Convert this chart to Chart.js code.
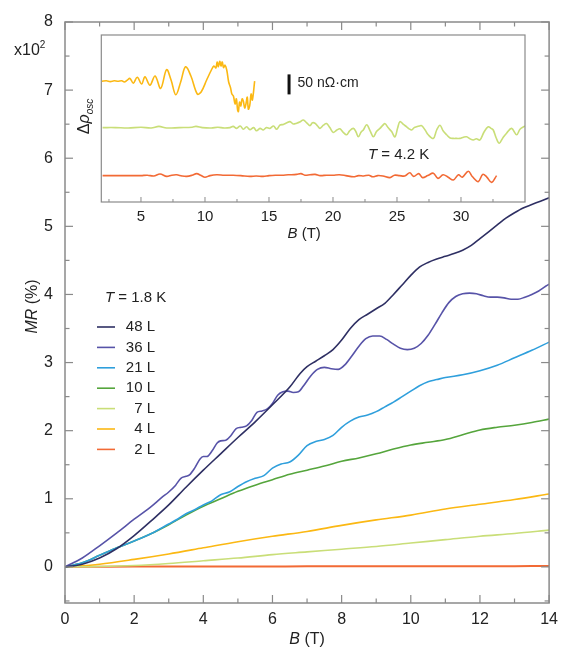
<!DOCTYPE html>
<html><head><meta charset="utf-8">
<script src="https://cdn.jsdelivr.net/npm/chart.js@4.4.1/dist/chart.umd.min.js"></script>
<style>
html,body{margin:0;padding:0;background:#fff;}
#wrap{position:relative;width:565px;height:649px;overflow:hidden;}
#main{position:absolute;left:0;top:0;}
#inset{position:absolute;left:60px;top:30px;}
</style></head><body>
<div id="wrap"><canvas id="main" width="565" height="649"></canvas><canvas id="inset" width="480" height="220"></canvas></div>
<script>
// ---------- main panel data: B (T) and MR (%) ----------
const labels = ['48 L','36 L','21 L','10 L','7 L','4 L','2 L'];
const colors = ['#2e2f63','#5753a8','#2f9fdc','#55a53c','#c9de78','#fbb813','#f26a35'];

const b48 = [0,0.5,1,1.5,2,2.5,3,3.5,4,4.5,5,5.5,6,6.5,6.8,7,7.25,7.5,7.75,8,8.25,8.5,8.75,9,9.25,9.5,9.75,10,10.25,10.5,10.75,11,11.25,11.5,11.75,12,12.25,12.5,12.75,13,13.25,13.5,13.75,14];
const mr48 = [0,0.04,0.13,0.27,0.46,0.68,0.91,1.17,1.42,1.66,1.90,2.13,2.38,2.64,2.84,2.94,3.02,3.10,3.19,3.33,3.50,3.63,3.71,3.79,3.87,4.00,4.14,4.28,4.40,4.47,4.52,4.56,4.60,4.65,4.72,4.82,4.92,5.02,5.12,5.20,5.27,5.32,5.37,5.42];

const b36 = [0,0.5,1,1.5,2,2.5,2.8,3.0,3.2,3.35,3.5,3.6,3.75,3.9,4.0,4.1,4.25,4.4,4.5,4.65,4.8,4.95,5.1,5.25,5.4,5.55,5.7,5.85,6.0,6.15,6.3,6.45,6.6,6.75,6.9,7.1,7.3,7.5,7.7,7.9,8.1,8.3,8.5,8.7,8.9,9.1,9.3,9.5,9.7,9.9,10.1,10.3,10.5,10.7,10.9,11.1,11.3,11.5,11.7,11.9,12.1,12.3,12.5,12.7,12.9,13.1,13.3,13.5,13.7,13.9,14];
const mr36 = [0,0.13,0.31,0.50,0.70,0.89,1.02,1.10,1.20,1.30,1.33,1.35,1.45,1.58,1.62,1.62,1.70,1.82,1.85,1.86,1.93,2.03,2.05,2.07,2.15,2.27,2.29,2.32,2.40,2.52,2.57,2.58,2.56,2.57,2.66,2.80,2.90,2.93,2.91,2.90,2.97,3.10,3.24,3.35,3.39,3.39,3.34,3.27,3.21,3.19,3.21,3.28,3.40,3.56,3.73,3.88,3.97,4.01,4.02,4.01,3.98,3.96,3.96,3.95,3.93,3.93,3.96,4.00,4.05,4.12,4.15];

const b21 = [0,0.5,1,1.5,2,2.5,3,3.25,3.5,3.75,4,4.25,4.5,4.75,5,5.25,5.5,5.75,6,6.25,6.5,6.75,7,7.25,7.5,7.75,8,8.25,8.5,8.75,9,9.25,9.5,9.75,10,10.25,10.5,10.75,11,11.5,12,12.5,13,13.5,14];
const mr21 = [0,0.06,0.17,0.28,0.38,0.49,0.63,0.70,0.78,0.84,0.91,0.97,1.06,1.10,1.18,1.25,1.30,1.34,1.45,1.51,1.54,1.64,1.78,1.84,1.87,1.93,2.05,2.14,2.20,2.23,2.28,2.35,2.42,2.50,2.58,2.66,2.72,2.75,2.78,2.82,2.88,2.96,3.07,3.18,3.30];

const b10 = [0,0.5,1,1.5,2,2.5,3,3.5,4,4.5,5,5.5,6,6.5,7,7.5,8,8.5,9,9.5,10,10.5,11,11.5,12,12.5,13,13.5,14];
const mr10 = [0,0.06,0.17,0.28,0.38,0.49,0.62,0.76,0.89,1.00,1.11,1.20,1.28,1.36,1.42,1.48,1.55,1.60,1.66,1.73,1.79,1.83,1.87,1.94,2.01,2.05,2.08,2.12,2.17];

const bInt = [0,1,2,3,4,5,6,7,8,9,10,11,12,13,14];
const mr7 = [0,0.005,0.02,0.05,0.09,0.13,0.18,0.22,0.26,0.30,0.35,0.40,0.45,0.49,0.54];
const mr4 = [0,0.04,0.11,0.19,0.28,0.37,0.45,0.52,0.61,0.69,0.76,0.85,0.92,0.99,1.07];
const mr2 = [0,0.003,0.005,0.005,0.006,0.006,0.007,0.008,0.008,0.009,0.01,0.01,0.01,0.011,0.012];

const xTickLabels = [0,2,4,6,8,10,12,14];
const xTickMarks = [0,1,2,3,4,5,6,7,8,9,10,11,12,13,14];
const yTickLabels = [0,1,2,3,4,5,6,7,8];
const yTickMarks = [-0.5,0,0.5,1,1.5,2,2.5,3,3.5,4,4.5,5,5.5,6,6.5,7,7.5,8];

// ---------- inset data: B (T) and Δρosc (nΩ·cm, offset) ----------
const bIn4 = [1.95,2.3,2.6,2.9,3.2,3.5,3.7,3.9,4.14,4.4,4.71,5.05,5.31,5.7,6.1,6.54,7.0,7.35,7.72,8.1,8.48,8.9,9.4,9.7,10.13,10.5,10.7,10.85,10.95,11.05,11.15,11.25,11.35,11.45,11.56,11.7,11.85,12.0,12.1,12.22,12.35,12.45,12.55,12.61,12.7,12.8,12.9,13.0,13.1,13.2,13.3,13.39,13.5,13.6,13.7,13.88];
const dr4 = [302,303,301,303,302,303,300,304,309,297,312,295,313,292,315,284,331,305,268,300,338,315,270,275,305,330,340,335,350,338,352,340,350,336,342,330,300,285,270,265,245,258,230,226,250,240,258,252,235,245,262,232,242,270,255,302];

const bIn7 = [2.0,3,4,5,5.8,6.4,7,8,9,9.3,9.8,10.5,11,11.5,11.95,12.2,12.47,12.75,13.0,13.25,13.51,13.8,14.03,14.3,14.55,14.8,15.07,15.35,15.6,15.85,16.12,16.4,16.64,16.9,17.16,17.4,17.68,17.95,18.2,18.4,18.59,18.8,18.98,19.25,19.5,19.75,20.02,20.3,20.54,20.8,21.06,21.3,21.59,21.8,21.98,22.2,22.37,22.63,22.9,23.15,23.4,23.67,23.9,24.06,24.3,24.58,24.84,25.05,25.23,25.5,25.75,25.95,26.14,26.35,26.53,26.75,26.92,27.2,27.44,27.84,28.1,28.36,28.6,28.88,29.15,29.4,29.65,29.92,30.2,30.44,30.7,30.96,31.2,31.48,31.8,32.13,32.35,32.52,32.75,32.99,33.3,33.56,33.95,34.35,34.61,35.0];
const dr7 = [186,186,185,187,185,189,185,186,187,189,186,185,187,185,186,189,184,190,182,188,181,186,178,184,180,186,184,190,182,192,194,198,201,195,197,200,205,198,191,198,197,190,184,192,196,186,174,180,183,174,168,178,184,175,163,175,180,193,178,163,176,184,192,196,186,176,163,185,201,194,188,183,180,186,188,190,191,180,168,159,180,192,178,168,160,159,159,159,162,163,158,155,158,155,175,188,184,180,160,147,162,172,184,168,182,190];

const bIn2 = [2.0,3,4,5,5.5,6,6.49,7.01,7.4,7.79,8.2,8.57,9,9.35,9.7,10.0,10.4,10.92,11.5,12.2,12.8,13.5,14.0,14.55,15,15.5,16,16.5,17.16,17.5,17.8,18.2,18.6,19,19.5,20,20.5,21,21.6,22,22.4,22.8,23.1,23.5,23.9,24.45,24.8,25.2,25.6,26.0,26.3,26.7,27.0,27.4,27.84,28.2,28.6,29.0,29.4,29.8,30.1,30.57,30.9,31.35,31.7,32.0,32.39,32.78];
const dr2 = [66,66,66,66,67,65,70,64,67,68,65,64,67,71,66,62,66,68,67,67,66,64,65,64,66,67,67,68,69,71,67,68,69,66,67,67,68,66,63,66,65,67,63,66,65,61,67,66,65,73,64,71,61,66,72,59,68,62,55,68,62,77,63,51,69,63,49,66];

const insetXTickLabels = [5,10,15,20,25,30];
const insetXTickMarks = [2.5,5,7.5,10,12.5,15,17.5,20,22.5,25,27.5,30,32.5];
const scaleBarValue = 50; // nΩ·cm

const FONT = '"Liberation Sans", Arial, Helvetica, sans-serif';
const TXT = '#222';
const FRAME = '#8a8a8a';

function pts(xs, ys){ return xs.map((x,i)=>({x:x, y:ys[i]})); }

function rich(ctx, parts, x, y, align){
  let w = 0;
  parts.forEach(p=>{ ctx.font = p.font; p.w = ctx.measureText(p.t).width; w += p.w; });
  let cx = align==='center' ? x - w/2 : (align==='right' ? x - w : x);
  ctx.textAlign = 'left'; ctx.textBaseline = 'middle';
  parts.forEach(p=>{ ctx.font = p.font; ctx.fillText(p.t, cx, y + (p.dy||0)); cx += p.w; });
}
function seg(ctx,x1,y1,x2,y2){ ctx.beginPath(); ctx.moveTo(x1,y1); ctx.lineTo(x2,y2); ctx.stroke(); }

const mainDecor = {
  id:'mainDecor',
  afterDraw(chart){
    const {ctx, chartArea:a, scales:{x,y}} = chart;
    ctx.save();
    ctx.strokeStyle = FRAME; ctx.lineWidth = 1.5;
    ctx.strokeRect(a.left, a.top, a.right-a.left, a.bottom-a.top);
    ctx.lineWidth = 1.2;
    xTickMarks.forEach(v=>{
      const px = x.getPixelForValue(v); const L = xTickLabels.includes(v) ? 8 : 4.5;
      seg(ctx,px,a.bottom,px,a.bottom-L); seg(ctx,px,a.top,px,a.top+L);
    });
    yTickMarks.forEach(v=>{
      const py = y.getPixelForValue(v); const L = yTickLabels.includes(v) ? 8 : 4.5;
      seg(ctx,a.left,py,a.left+L,py); seg(ctx,a.right,py,a.right-L,py);
    });
    ctx.fillStyle = TXT;
    // x title
    rich(ctx,[{t:'B',font:'italic 16px '+FONT},{t:' (T)',font:'16px '+FONT}], (a.left+a.right)/2, 640, 'center');
    // y title
    ctx.save(); ctx.translate(33, (a.top+a.bottom)/2 - 6); ctx.rotate(-Math.PI/2);
    rich(ctx,[{t:'MR',font:'italic 16px '+FONT},{t:' (%)',font:'16px '+FONT}], 0, 0, 'center');
    ctx.restore();
    // x10^2
    rich(ctx,[{t:'x10',font:'16px '+FONT},{t:'2',font:'10px '+FONT,dy:-6}], 14, 51, 'left');
    // legend
    rich(ctx,[{t:'T',font:'italic 15px '+FONT},{t:' = 1.8 K',font:'15px '+FONT}], 105, 298, 'left');
    chart.data.datasets.forEach((ds,i)=>{
      const yy = 327 + i*20.4;
      ctx.strokeStyle = ds.borderColor; ctx.lineWidth = 1.6;
      seg(ctx,97,yy,115,yy);
      ctx.fillStyle = TXT; ctx.font = '15px '+FONT; ctx.textAlign='right'; ctx.textBaseline='middle';
      ctx.fillText(ds.label, 155, yy);
    });
    ctx.restore();
  }
};

new Chart(document.getElementById('main'), {
  type:'line',
  data:{datasets:[
    {label:labels[0], data:pts(b48,mr48), borderColor:colors[0]},
    {label:labels[1], data:pts(b36,mr36), borderColor:colors[1]},
    {label:labels[2], data:pts(b21,mr21), borderColor:colors[2]},
    {label:labels[3], data:pts(b10,mr10), borderColor:colors[3]},
    {label:labels[4], data:pts(bInt,mr7), borderColor:colors[4]},
    {label:labels[5], data:pts(bInt,mr4), borderColor:colors[5]},
    {label:labels[6], data:pts(bInt,mr2), borderColor:colors[6], borderWidth:2}
  ]},
  options:{
    responsive:false, animation:false, devicePixelRatio:1,
    layout:{padding:{top:22,right:14,left:0,bottom:0}},
    elements:{line:{borderWidth:1.6, cubicInterpolationMode:'monotone', fill:false}, point:{radius:0}},
    plugins:{legend:{display:false}, tooltip:{enabled:false}},
    scales:{
      x:{type:'linear', min:0, max:14,
         afterBuildTicks:s=>{ s.ticks = xTickLabels.map(v=>({value:v})); },
         afterFit:s=>{ s.height = 46; },
         grid:{display:false, drawTicks:false}, border:{display:false},
         ticks:{padding:7, maxRotation:0, color:TXT, font:{family:FONT,size:16}}},
      y:{type:'linear', min:-0.53, max:8,
         afterBuildTicks:s=>{ s.ticks = yTickLabels.map(v=>({value:v})); },
         afterFit:s=>{ s.width = 65; },
         grid:{display:false, drawTicks:false}, border:{display:false},
         ticks:{padding:12, color:TXT, font:{family:FONT,size:16}}}
    }
  },
  plugins:[mainDecor]
});

const insetDecor = {
  id:'insetDecor',
  beforeDraw(chart){
    const {ctx, chartArea:a} = chart;
    ctx.save(); ctx.fillStyle='#fff'; ctx.fillRect(a.left, a.top, a.right-a.left, a.bottom-a.top); ctx.restore();
  },
  afterDraw(chart){
    const {ctx, chartArea:a, scales:{x,y}} = chart;
    ctx.save();
    ctx.strokeStyle = FRAME; ctx.lineWidth = 1.2;
    ctx.strokeRect(a.left, a.top, a.right-a.left, a.bottom-a.top);
    ctx.lineWidth = 1;
    insetXTickMarks.forEach(v=>{
      const px = x.getPixelForValue(v); const L = insetXTickLabels.includes(v) ? 5 : 3;
      seg(ctx,px,a.bottom,px,a.bottom-L);
    });
    // scale bar
    const bx = x.getPixelForValue(16.45);
    const y0 = y.getPixelForValue(269), y1 = y.getPixelForValue(269+scaleBarValue);
    ctx.fillStyle = '#111'; ctx.fillRect(bx, y1, 3, y0-y1);
    ctx.fillStyle = TXT;
    rich(ctx,[{t:scaleBarValue+' nΩ·cm',font:'14px '+FONT}], bx+10, (y0+y1)/2 - 1, 'left');
    // T = 4.2 K
    rich(ctx,[{t:'T',font:'italic 15px '+FONT},{t:' = 4.2 K',font:'15px '+FONT}], 308, 125, 'left');
    // x title
    rich(ctx,[{t:'B',font:'italic 15px '+FONT},{t:' (T)',font:'15px '+FONT}], (a.left+a.right)/2 - 9, 204, 'center');
    // y title
    ctx.save(); ctx.translate(25, (a.top+a.bottom)/2 - 2); ctx.rotate(-Math.PI/2);
    rich(ctx,[{t:'Δ',font:'16px '+FONT},{t:'ρ',font:'italic 16px '+FONT},{t:'osc',font:'italic 10px '+FONT,dy:5}], 0, 0, 'center');
    ctx.restore();
    ctx.restore();
  }
};

new Chart(document.getElementById('inset'), {
  type:'line',
  data:{datasets:[
    {label:labels[5], data:pts(bIn4,dr4), borderColor:colors[5]},
    {label:labels[4], data:pts(bIn7,dr7), borderColor:colors[4]},
    {label:labels[6], data:pts(bIn2,dr2), borderColor:colors[6]}
  ]},
  options:{
    responsive:false, animation:false, devicePixelRatio:1,
    layout:{padding:{top:5,right:15,left:0,bottom:0}},
    elements:{line:{borderWidth:1.6, tension:0.35, fill:false}, point:{radius:0}},
    plugins:{legend:{display:false}, tooltip:{enabled:false}},
    scales:{
      x:{type:'linear', min:1.9, max:35,
         afterBuildTicks:s=>{ s.ticks = insetXTickLabels.map(v=>({value:v})); },
         afterFit:s=>{ s.height = 48; },
         grid:{display:false, drawTicks:false}, border:{display:false},
         ticks:{padding:6, maxRotation:0, color:TXT, font:{family:FONT,size:15}}},
      y:{type:'linear', min:0, max:417.5,
         afterFit:s=>{ s.width = 41.3; },
         grid:{display:false, drawTicks:false}, border:{display:false},
         ticks:{display:false}}
    }
  },
  plugins:[insetDecor]
});
</script>
</body></html>
